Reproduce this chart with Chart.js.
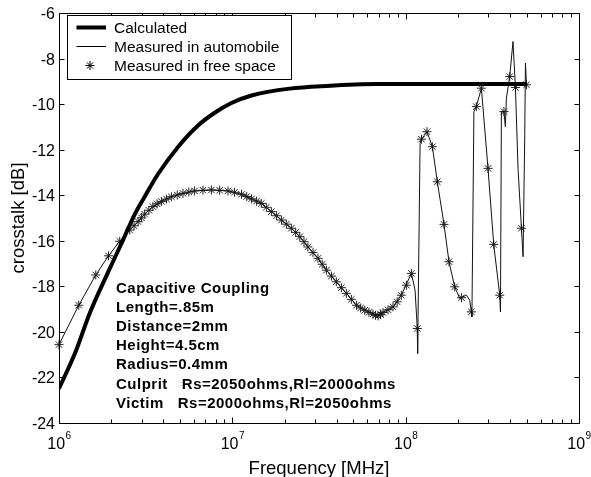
<!DOCTYPE html>
<html>
<head>
<meta charset="utf-8">
<script src="https://cdn.jsdelivr.net/npm/chart.js@4.4.0/dist/chart.umd.min.js"></script>
<style>
  html, body { margin: 0; padding: 0; background: #fff; }
  canvas { display: block; }
</style>
</head>
<body>
<canvas id="crosstalkChart" width="591" height="477"></canvas>
<script>
// calculated crosstalk (thick line)
const calcFreq = [1.00e6, 1.25e6, 1.50e6, 1.90e6, 2.34e6, 2.73e6, 3.12e6, 3.72e6, 4.86e6, 6.34e6,
                  7.91e6, 9.88e6, 1.29e7, 2.14e7, 3.49e7, 6.78e7, 5.00e8];
const calcDb = [-22.49, -20.85, -19.20, -17.45, -15.97, -14.85, -14.07, -13.08, -11.88, -10.94,
                -10.38, -9.95, -9.62, -9.32, -9.20, -9.12, -9.12];

// measured in automobile (thin line)
const carFreq = [1.00e6, 1.30e6, 1.63e6, 1.93e6, 2.24e6, 2.56e6, 2.86e6, 3.12e6, 3.48e6, 3.90e6,
                 4.45e6, 5.19e6, 6.06e6, 7.57e6, 9.44e6, 1.13e7, 1.29e7, 1.47e7, 1.68e7, 1.92e7,
                 2.19e7, 2.45e7, 2.73e7, 3.12e7, 3.49e7, 3.98e7, 4.55e7, 5.20e7, 5.81e7, 6.48e7,
                 6.93e7, 7.40e7, 8.45e7, 9.44e7, 1.079e8, 1.133e8, 1.167e8, 1.172e8, 1.211e8, 1.234e8,
                 1.327e8, 1.426e8, 1.523e8, 1.664e8, 1.778e8, 1.918e8, 2.050e8, 2.240e8, 2.341e8, 2.393e8,
                 2.411e8, 2.476e8, 2.557e8, 2.734e8, 2.986e8, 3.221e8, 3.489e8, 3.522e8, 3.567e8, 3.690e8,
                 3.759e8, 3.811e8, 3.983e8, 4.162e8, 4.298e8, 4.449e8, 4.655e8, 4.757e8, 4.864e8, 4.909e8,
                 4.977e8];
const carDb = [-20.56, -18.83, -17.50, -16.66, -16.02, -15.53, -15.16, -14.83, -14.50, -14.28,
               -14.07, -13.92, -13.81, -13.77, -13.81, -13.96, -14.16, -14.36, -14.72, -15.09,
               -15.45, -15.82, -16.27, -16.77, -17.29, -17.80, -18.31, -18.83, -19.05, -19.22,
               -19.30, -19.15, -18.90, -18.39, -17.43, -18.17, -19.85, -20.95, -11.72, -11.54,
               -11.21, -11.87, -13.41, -15.28, -16.92, -18.02, -18.53, -18.39, -18.61, -19.12,
               -19.34, -10.33, -10.11, -9.30, -12.82, -16.16, -18.39, -19.12, -10.33, -10.33,
               -10.99, -9.74, -8.79, -7.25, -9.27, -12.82, -15.45, -16.70, -11.35, -8.20,
               -9.15];

// measured in free space (star markers)
const freeFreq = [1.00e6, 1.30e6, 1.63e6, 1.93e6, 2.24e6, 2.56e6, 2.71e6, 2.86e6, 2.99e6, 3.12e6,
                  3.30e6, 3.48e6, 3.68e6, 3.90e6, 4.17e6, 4.45e6, 4.81e6, 5.19e6, 5.61e6, 6.06e6,
                  6.77e6, 7.57e6, 8.45e6, 9.44e6, 1.03e7, 1.13e7, 1.21e7, 1.29e7, 1.38e7, 1.47e7,
                  1.57e7, 1.68e7, 1.80e7, 1.92e7, 2.05e7, 2.19e7, 2.32e7, 2.45e7, 2.59e7, 2.73e7,
                  2.92e7, 3.12e7, 3.30e7, 3.49e7, 3.73e7, 3.98e7, 4.26e7, 4.55e7, 4.86e7, 5.20e7,
                  5.50e7, 5.81e7, 6.14e7, 6.48e7, 6.70e7, 6.93e7, 7.16e7, 7.40e7, 7.91e7, 8.45e7,
                  8.93e7, 9.44e7, 1.01e8, 1.079e8, 1.167e8, 1.234e8, 1.327e8, 1.426e8, 1.523e8, 1.664e8,
                  1.778e8, 1.918e8, 2.10e8, 2.393e8, 2.557e8, 2.734e8, 2.986e8, 3.221e8, 3.489e8, 3.690e8,
                  3.983e8, 4.298e8, 4.655e8, 4.977e8];
const freeDb = [-20.56, -18.83, -17.50, -16.66, -16.02, -15.53, -15.34, -15.16, -14.99, -14.83,
                -14.66, -14.50, -14.38, -14.28, -14.17, -14.07, -13.99, -13.92, -13.86, -13.81,
                -13.78, -13.77, -13.78, -13.81, -13.87, -13.96, -14.06, -14.16, -14.26, -14.36,
                -14.53, -14.72, -14.90, -15.09, -15.27, -15.45, -15.63, -15.82, -16.04, -16.27,
                -16.52, -16.77, -17.03, -17.29, -17.55, -17.80, -18.06, -18.31, -18.57, -18.83,
                -18.95, -19.05, -19.14, -19.22, -19.27, -19.30, -19.24, -19.15, -19.03, -18.90,
                -18.68, -18.39, -17.95, -17.43, -19.85, -11.54, -11.21, -11.87, -13.41, -15.28,
                -16.92, -18.02, -18.50, -19.12, -10.11, -9.30, -12.82, -16.16, -18.39, -10.33,
                -8.79, -9.27, -15.45, -9.15];

const yTicks = [-24, -22, -20, -18, -16, -14, -12, -10, -8, -6];
const xDecades = [6, 7, 8, 9];
const minorSteps = [2, 3, 4, 5, 6, 7, 8, 9];
const noteLines = [
    'Capacitive Coupling',
    'Length=.85m',
    'Distance=2mm',
    'Height=4.5cm',
    'Radius=0.4mm',
    'Culprit   Rs=2050ohms,Rl=2000ohms',
    'Victim   Rs=2000ohms,Rl=2050ohms'
];

const fontFamily = '"Liberation Sans", Arial, Helvetica, sans-serif';

function toPoints(xs, ys) {
    return xs.map((x, i) => ({ x: x, y: ys[i] }));
}

function drawStar(ctx, x, y, r) {
    const d = r * 0.7071;
    ctx.beginPath();
    ctx.moveTo(x - r, y); ctx.lineTo(x + r, y);
    ctx.moveTo(x, y - r); ctx.lineTo(x, y + r);
    ctx.moveTo(x - d, y - d); ctx.lineTo(x + d, y + d);
    ctx.moveTo(x - d, y + d); ctx.lineTo(x + d, y - d);
    ctx.stroke();
}

// frame, inward ticks, tick labels, titles, legend and the text note
const axesPlugin = {
    id: 'axesPlugin',
    afterDraw(chart) {
        const ctx = chart.ctx;
        const area = chart.chartArea;
        const xScale = chart.scales.x;
        const yScale = chart.scales.y;
        const L = Math.round(area.left) + 0.5, R = Math.round(area.right) + 0.5;
        const T = Math.round(area.top) + 0.5, B = Math.round(area.bottom) + 0.5;

        ctx.save();
        ctx.strokeStyle = '#000';
        ctx.fillStyle = '#000';
        ctx.lineWidth = 1;
        ctx.strokeRect(L, T, R - L, B - T);

        // y ticks + labels
        ctx.font = '16px ' + fontFamily;
        ctx.textAlign = 'right';
        ctx.textBaseline = 'alphabetic';
        yTicks.forEach(v => {
            const py = Math.round(yScale.getPixelForValue(v)) + 0.5;
            ctx.beginPath();
            ctx.moveTo(L, py); ctx.lineTo(L + 5, py);
            ctx.moveTo(R, py); ctx.lineTo(R - 5, py);
            ctx.stroke();
            ctx.fillText(String(v), 55, py + 5.5);
        });

        // x ticks (decades + minor)
        xDecades.forEach(d => {
            const steps = d < 9 ? [1].concat(minorSteps) : [1];
            steps.forEach(m => {
                const px = Math.round(xScale.getPixelForValue(m * Math.pow(10, d))) + 0.5;
                const len = m === 1 ? 6 : 4;
                ctx.beginPath();
                ctx.moveTo(px, B); ctx.lineTo(px, B - len);
                ctx.moveTo(px, T); ctx.lineTo(px, T + len);
                ctx.stroke();
            });
            // label 10^d
            const px = xScale.getPixelForValue(Math.pow(10, d));
            ctx.font = '16px ' + fontFamily;
            const wBase = ctx.measureText('10').width;
            ctx.font = '10px ' + fontFamily;
            const wExp = ctx.measureText(String(d)).width;
            const x0 = px - (wBase + wExp) / 2;
            ctx.textAlign = 'left';
            ctx.font = '16px ' + fontFamily;
            ctx.fillText('10', x0, 448.5);
            ctx.font = '10px ' + fontFamily;
            ctx.fillText(String(d), x0 + wBase + 0.5, 438.5);
        });

        // axis titles
        ctx.font = '18.5px ' + fontFamily;
        ctx.textAlign = 'center';
        ctx.fillText('Frequency [MHz]', (area.left + area.right) / 2, 473.5);
        ctx.save();
        ctx.translate(24, (area.top + area.bottom) / 2);
        ctx.rotate(-Math.PI / 2);
        ctx.fillText('crosstalk [dB]', 0, 0);
        ctx.restore();

        // legend
        const lx = 67.5, ly = 15.5, lw = 224, lh = 64;
        ctx.fillStyle = '#fff';
        ctx.fillRect(lx, ly, lw, lh);
        ctx.strokeRect(lx, ly, lw, lh);
        ctx.fillStyle = '#000';
        ctx.font = '15.5px ' + fontFamily;
        ctx.textAlign = 'left';
        const rowY = [27.5, 46.5, 65.5];
        chart.data.datasets.forEach((ds, i) => {
            const y = rowY[i];
            if (i === 0) {
                ctx.lineWidth = 4;
                ctx.beginPath(); ctx.moveTo(76.5, y); ctx.lineTo(106, y); ctx.stroke();
            } else if (i === 1) {
                ctx.lineWidth = 1;
                ctx.beginPath(); ctx.moveTo(76.5, y); ctx.lineTo(106, y); ctx.stroke();
            } else {
                ctx.lineWidth = 1;
                drawStar(ctx, 90, y, 4.5);
            }
            ctx.fillText(ds.label, 114, y + 5.5);
        });

        // note
        ctx.font = 'bold 15px ' + fontFamily;
        ctx.letterSpacing = '0.5px';
        noteLines.forEach((line, i) => {
            ctx.fillText(line, 116, 292.5 + i * 19.23);
        });
        ctx.letterSpacing = '0px';
        ctx.restore();
    }
};

const ctx = document.getElementById('crosstalkChart').getContext('2d');
new Chart(ctx, {
    type: 'line',
    data: {
        datasets: [
            {
                label: 'Calculated',
                data: toPoints(calcFreq, calcDb),
                borderColor: '#000',
                borderWidth: 4,
                pointRadius: 0,
                cubicInterpolationMode: 'monotone'
            },
            {
                label: 'Measured in automobile',
                data: toPoints(carFreq, carDb),
                borderColor: '#111',
                borderWidth: 1,
                pointRadius: 0,
                tension: 0
            },
            {
                label: 'Measured in free space',
                data: toPoints(freeFreq, freeDb),
                showLine: false,
                pointStyle: 'star',
                pointRadius: 4.5,
                pointBorderWidth: 1,
                borderColor: '#222',
                backgroundColor: '#222',
                clip: false
            }
        ]
    },
    options: {
        responsive: false,
        animation: false,
        layout: { padding: { left: 59, top: 13, right: 12, bottom: 54 } },
        plugins: { legend: { display: false }, tooltip: { enabled: false } },
        scales: {
            x: { type: 'logarithmic', min: 1e6, max: 1e9, display: false },
            y: { type: 'linear', min: -24, max: -6, display: false }
        }
    },
    plugins: [axesPlugin]
});
</script>
</body>
</html>
